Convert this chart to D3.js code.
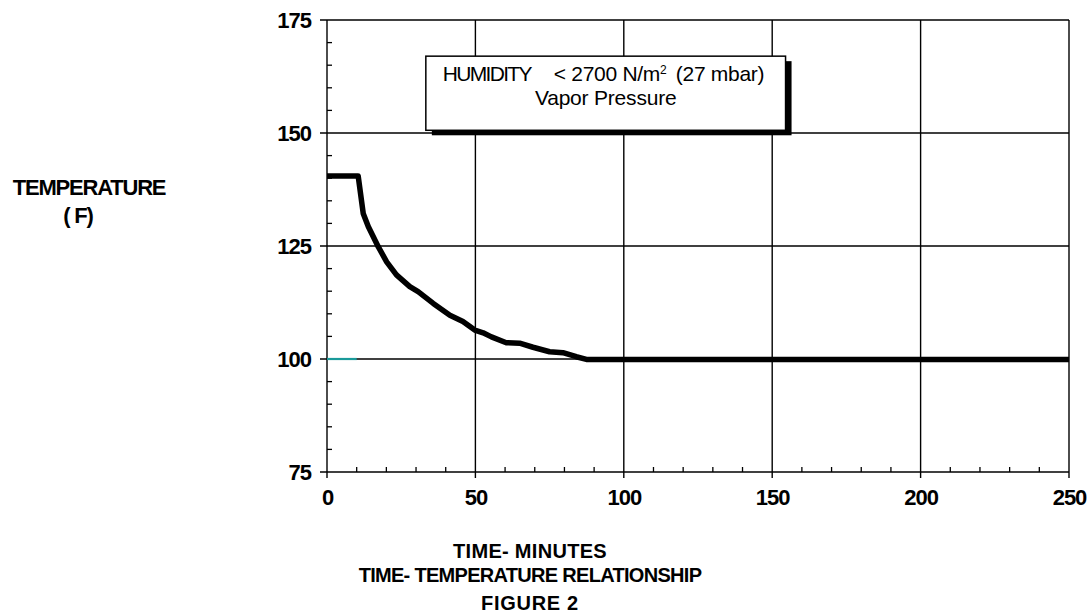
<!DOCTYPE html>
<html lang="en">

<head>
    <meta charset="UTF-8">
    <script src="https://d3js.org/d3.v7.min.js"></script>
    <title>Figure 2</title>
    <style>
        body { margin: 0; background: #fff; }
        text { font-family: "Liberation Sans", Arial, sans-serif; fill: #000; }
        .bold { font-weight: bold; }
    </style>
</head>

<body>
    <div id="chart"></div>
    <script>
        // curve (minutes, deg F)
        const timeMin = [0, 10, 10.5, 12.2, 13.9, 17.3, 20.1, 23.4, 27.9, 30.7, 35.8, 41.4, 45.8, 49.8,
            52.6, 55.4, 60.4, 64.9, 69.4, 75, 79.5, 84, 87.4, 250];
        const tempF = [140.5, 140.5, 140.5, 132.2, 129.3, 124.8, 121.5, 118.6, 116, 114.9, 112.3, 109.7, 108.3, 106.4,
            105.8, 104.9, 103.6, 103.5, 102.6, 101.6, 101.4, 100.5, 99.9, 99.9];
        // short teal reference segment at 100 F
        const refTime = [0, 10];
        const refTemp = [100, 100];

        const xTicks = [0, 50, 100, 150, 200, 250];
        const yTicks = [75, 100, 125, 150, 175];
        const xMinor = d3.range(0, 251, 10);
        const yMinor = d3.range(75, 176, 5);

        const width = 1089;
        const height = 616;
        const padding = { left: 327, right: 20, top: 20, bottom: 144 };

        const svg = d3.select("#chart")
            .append("svg")
            .attr("width", width)
            .attr("height", height);

        const x = d3.scaleLinear()
            .domain([0, 250])
            .range([padding.left, width - padding.right]);
        const y = d3.scaleLinear()
            .domain([75, 175])
            .range([height - padding.bottom, padding.top]);

        // grid
        svg.append("g")
            .selectAll("line")
            .data(xTicks)
            .enter()
            .append("line")
            .attr("x1", d => x(d)).attr("x2", d => x(d))
            .attr("y1", y(175)).attr("y2", y(75) + 6)
            .attr("stroke", "#000").attr("stroke-width", 1.4);
        svg.append("g")
            .selectAll("line")
            .data(yTicks)
            .enter()
            .append("line")
            .attr("x1", x(0) - 7).attr("x2", x(250))
            .attr("y1", d => y(d)).attr("y2", d => y(d))
            .attr("stroke", "#000").attr("stroke-width", 1.4);

        // minor ticks, pointing inward
        svg.append("g")
            .selectAll("line")
            .data(xMinor.filter(d => d % 50 !== 0))
            .enter()
            .append("line")
            .attr("x1", d => x(d)).attr("x2", d => x(d))
            .attr("y1", y(75)).attr("y2", y(75) - 5)
            .attr("stroke", "#000").attr("stroke-width", 1.3);
        svg.append("g")
            .selectAll("line")
            .data(yMinor.filter(d => d % 25 !== 0))
            .enter()
            .append("line")
            .attr("x1", x(0)).attr("x2", x(0) + 5)
            .attr("y1", d => y(d)).attr("y2", d => y(d))
            .attr("stroke", "#000").attr("stroke-width", 1.3);

        // tick labels
        svg.append("g")
            .selectAll("text")
            .data(xTicks)
            .enter()
            .append("text")
            .attr("class", "bold")
            .attr("x", d => x(d) + 0.5)
            .attr("y", y(75) + 33)
            .attr("text-anchor", "middle")
            .attr("font-size", 22)
            .attr("letter-spacing", -1)
            .text(d => d);
        svg.append("g")
            .selectAll("text")
            .data(yTicks)
            .enter()
            .append("text")
            .attr("class", "bold")
            .attr("x", x(0) - 16)
            .attr("y", d => y(d) + 8)
            .attr("text-anchor", "end")
            .attr("font-size", 22)
            .attr("letter-spacing", -1)
            .text(d => d);

        // legend box with shadow
        const box = { x: x(33.3), y: y(167), w: x(154.5) - x(33.3), h: y(150.6) - y(167) };
        svg.append("rect")
            .attr("x", box.x + 6).attr("y", box.y + 5)
            .attr("width", box.w).attr("height", box.h)
            .attr("fill", "#000");
        svg.append("rect")
            .attr("x", box.x).attr("y", box.y)
            .attr("width", box.w).attr("height", box.h)
            .attr("fill", "#fff").attr("stroke", "#000").attr("stroke-width", 1.5);
        const leg = svg.append("text")
            .attr("y", box.y + 25)
            .attr("font-size", 21)
            .attr("letter-spacing", -0.3);
        leg.append("tspan").attr("x", box.x + 17).attr("letter-spacing", -1.7).text("HUMIDITY");
        leg.append("tspan").attr("x", box.x + 128).text("< 2700 N/m");
        leg.append("tspan").attr("dy", -7).attr("font-size", 12).attr("letter-spacing", 0).text("2");
        leg.append("tspan").attr("x", box.x + 250).attr("dy", 7).text("(27 mbar)");
        svg.append("text")
            .attr("x", box.x + box.w / 2)
            .attr("y", box.y + 49)
            .attr("text-anchor", "middle")
            .attr("font-size", 21)
            .attr("letter-spacing", -0.2)
            .text("Vapor Pressure");

        // data
        const line = d3.line()
            .x(d => x(d[0]))
            .y(d => y(d[1]));
        svg.append("path")
            .attr("d", line(d3.zip(refTime, refTemp)))
            .attr("fill", "none")
            .attr("stroke", "#1a9a9a")
            .attr("stroke-width", 2.2);
        svg.append("path")
            .attr("d", line(d3.zip(timeMin, tempF)))
            .attr("fill", "none")
            .attr("stroke", "#000")
            .attr("stroke-width", 5.5)
            .attr("stroke-linejoin", "round");

        // titles
        svg.append("text")
            .attr("class", "bold")
            .attr("x", 89).attr("y", 195)
            .attr("text-anchor", "middle")
            .attr("font-size", 22)
            .attr("letter-spacing", -1.2)
            .text("TEMPERATURE");
        svg.append("text")
            .attr("class", "bold")
            .attr("x", 78).attr("y", 223)
            .attr("text-anchor", "middle")
            .attr("font-size", 22)
            .attr("letter-spacing", -1.2)
            .text("( F)");

        const bottomTitles = ["TIME- MINUTES", "TIME- TEMPERATURE RELATIONSHIP", "FIGURE 2"];
        const bottomY = [558, 582, 610];
        const bottomSpacing = [0.3, -0.7, 0.7];
        svg.append("g")
            .selectAll("text")
            .data(bottomTitles)
            .enter()
            .append("text")
            .attr("class", "bold")
            .attr("x", 530)
            .attr("y", (d, i) => bottomY[i])
            .attr("text-anchor", "middle")
            .attr("font-size", 20)
            .attr("letter-spacing", (d, i) => bottomSpacing[i])
            .text(d => d);
    </script>
</body>

</html>
